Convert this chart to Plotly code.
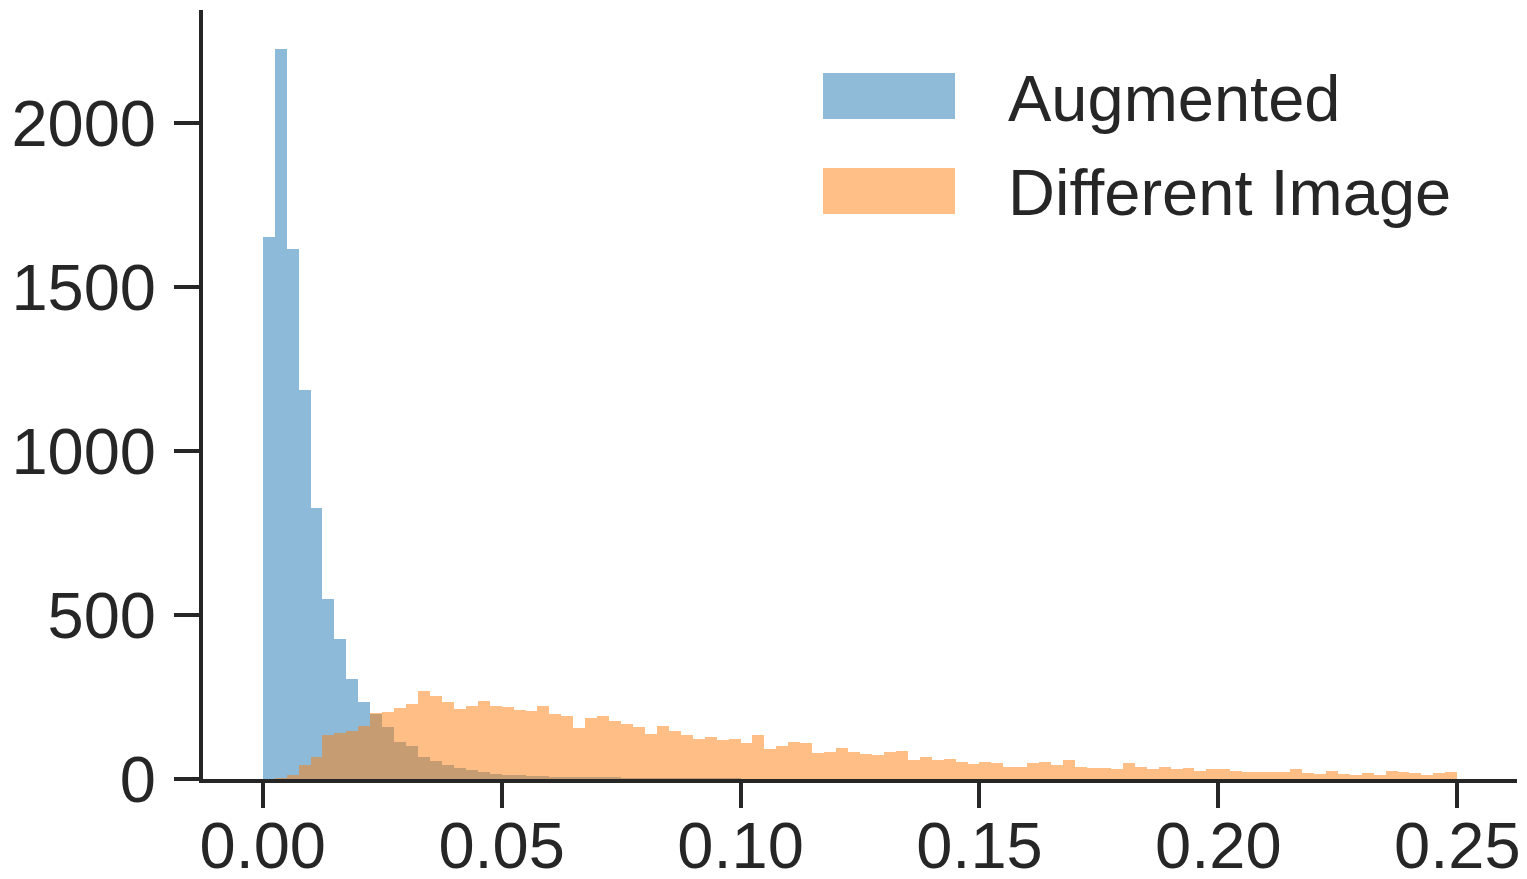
import numpy as np
import plotly.graph_objects as go

# Histogram bins: 100 equal bins from 0.00 to 0.25
bin_edges = np.linspace(0.0, 0.25, 101)
bin_centers = (bin_edges[:-1] + bin_edges[1:]) / 2
bin_width = bin_edges[1] - bin_edges[0]

augmented_counts = [
    1652, 2226, 1616, 1186, 826, 549, 427, 305, 234, 198,
    160, 114, 101, 66, 55, 44, 33, 26, 20, 16,
    12, 11, 9, 8, 7, 6, 5, 5, 4, 4,
    3, 3, 2, 2, 2, 1, 1, 1, 1, 1,
    0, 0, 0, 0, 0, 0, 0, 0, 0, 0,
    0, 0, 0, 0, 0, 0, 0, 0, 0, 0,
    0, 0, 0, 0, 0, 0, 0, 0, 0, 0,
    0, 0, 0, 0, 0, 0, 0, 0, 0, 0,
    0, 0, 0, 0, 0, 0, 0, 0, 0, 0,
    0, 0, 0, 0, 0, 0, 0, 0, 0, 0,
]

different_counts = [
    0, 2, 12, 43, 68, 134, 139, 147, 162, 200,
    205, 216, 228, 269, 254, 234, 213, 223, 238, 223,
    219, 210, 208, 223, 198, 192, 156, 187, 192, 177,
    167, 160, 137, 162, 146, 134, 122, 129, 119, 123,
    109, 134, 91, 102, 114, 111, 78, 83, 94, 81,
    76, 73, 83, 85, 58, 66, 58, 60, 53, 46,
    52, 48, 38, 38, 48, 53, 42, 58, 38, 33,
    33, 31, 48, 36, 30, 38, 31, 33, 24, 30,
    30, 25, 20, 20, 22, 22, 30, 19, 15, 23,
    14, 11, 17, 13, 24, 22, 17, 13, 17, 20,
]

series_names = ["Augmented", "Different Image"]
series_colors = ["#1f77b4", "#ff7f0e"]
legend_patch_colors = ["#8fbbd9", "#ffbf86"]

x_tick_vals = [0.00, 0.05, 0.10, 0.15, 0.20, 0.25]
x_tick_text = ["0.00", "0.05", "0.10", "0.15", "0.20", "0.25"]
y_tick_vals = [0, 500, 1000, 1500, 2000]
y_tick_text = ["0", "500", "1000", "1500", "2000"]

FONT = "Liberation Sans, Arial, Helvetica, sans-serif"
INK = "#262626"

fig = go.Figure()
for name, counts, color in zip(series_names, [augmented_counts, different_counts], series_colors):
    fig.add_trace(go.Bar(
        x=bin_centers, y=counts, width=bin_width, name=name,
        marker=dict(color=color, line=dict(width=0)), opacity=0.5,
        showlegend=False,
    ))

# The page body has an 8px margin; lay out in page pixels and offset.
OFF = 8
W, H = 1527 - OFF, 879 - OFF
ml, mr, mt, mb = 203 - OFF, 10, 10 - OFF, 100
pw, ph = W - ml - mr, H - mt - mb

def px_x(px):  # page pixel -> paper
    return (px - OFF - ml) / pw

def px_y(py):
    return (H - mb - (py - OFF)) / ph

legend_rows = [(73, 119), (168, 214)]
for (top, bot), name, col in zip(legend_rows, series_names, legend_patch_colors):
    fig.add_shape(type="rect", xref="paper", yref="paper",
                  x0=px_x(823), x1=px_x(955), y0=px_y(bot), y1=px_y(top),
                  fillcolor=col, line=dict(width=0), layer="above")
    fig.add_annotation(xref="paper", yref="paper", x=px_x(1006), y=px_y((top + bot) / 2 + 2),
                       text=name, showarrow=False, xanchor="left", yanchor="middle",
                       font=dict(family=FONT, size=65, color=INK))

fig.update_layout(
    width=W, height=H,
    margin=dict(l=ml, r=mr, t=mt, b=mb, pad=0, autoexpand=False),
    barmode="overlay", bargap=0,
    plot_bgcolor="white", paper_bgcolor="white",
    font=dict(family=FONT, size=65, color=INK),
)
fig.update_xaxes(
    range=[-0.0125, 0.2625], tickvals=x_tick_vals, ticktext=x_tick_text,
    showline=True, linewidth=4, linecolor=INK, ticks="outside", ticklen=25,
    tickwidth=4, tickcolor=INK, showgrid=False, zeroline=False,
    ticklabelstandoff=-18, automargin=False,
)
fig.update_yaxes(
    range=[0, 2344], tickvals=y_tick_vals, ticktext=y_tick_text,
    showline=True, linewidth=4, linecolor=INK, ticks="outside", ticklen=25,
    tickwidth=4, tickcolor=INK, showgrid=False, zeroline=False,
    ticklabelstandoff=5, automargin=False,
)

fig.write_html("out.html")
